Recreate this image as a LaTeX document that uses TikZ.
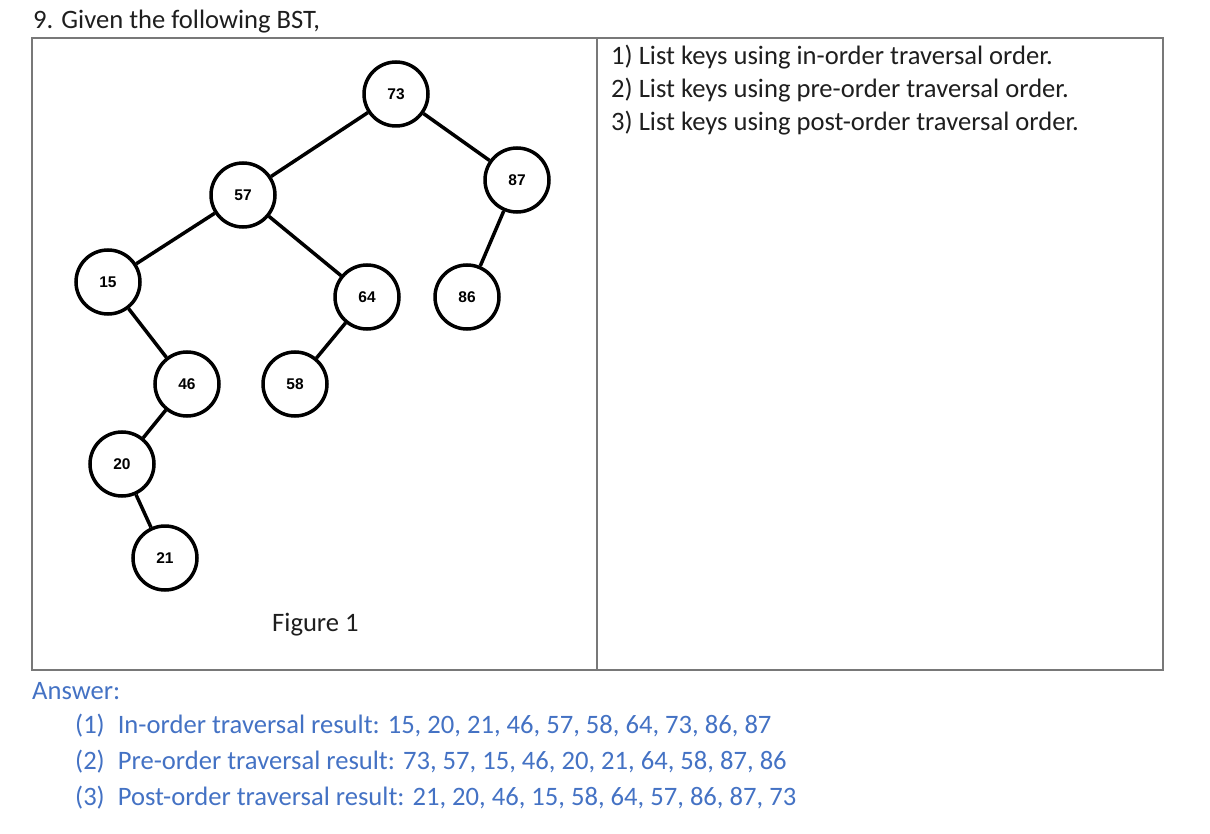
\documentclass[tikz,border=0pt]{standalone}
\usepackage{fontspec}
\setmainfont{Carlito}
\newfontfamily\keyfont{Liberation Sans}
\usetikzlibrary{calc}
\definecolor{answerblue}{RGB}{68,114,196}
\definecolor{framegray}{RGB}{120,120,120}
\definecolor{textgray}{RGB}{30,30,30}
\tikzstyle{key}=[circle,draw=black,line width=3.5pt,minimum size=64pt,inner sep=0pt,fill=white,font=\keyfont\bfseries\fontsize{15.5}{17}\selectfont, anchor = center]
\tikzstyle{edge}=[line width=3.5pt]
\tikzstyle{annot}=[anchor=base west,inner sep=0pt,text=textgray,font=\fontsize{26.6}{30}\selectfont]

\begin{document}
\begin{tikzpicture}[x=1pt,y=-1pt]
	\useasboundingbox (0,0) rectangle (1210,834);

	% question and frames
	\node[annot] (title) at (33,29) {9. Given the following BST,};
	\draw[framegray, line width=2pt] (32,38) rectangle (597,670);
	\draw[framegray, line width=2pt] (597,38) rectangle (1163,670);

	% the tree
	\node[key] (k73) at (396,94) {73};
	\node[key] (k57) at (243,195) {57};
	\node[key] (k87) at (517,180) {87};
	\node[key] (k15) at (108,282) {15};
	\node[key] (k64) at (367,297) {64};
	\node[key] (k86) at (467,297) {86};
	\node[key] (k46) at (187,384) {46};
	\node[key] (k58) at (295,384) {58};
	\node[key] (k20) at (122,464) {20};
	\node[key] (k21) at (165,558) {21};

	\draw[edge] (k73) -- (k57);
	\draw[edge] (k73) -- (k87);
	\draw[edge] (k57) -- (k15);
	\draw[edge] (k57) -- (k64);
	\draw[edge] (k87) -- (k86);
	\draw[edge] (k15) -- (k46);
	\draw[edge] (k64) -- (k58);
	\draw[edge] (k46) -- (k20);
	\draw[edge] (k20) -- (k21);

	\node[annot] (fig) at (272,631) {Figure 1};

	% questions
	\node[annot] (q1) at (611,65) {1) List keys using in-order traversal order.};
	\node[annot] (q2) at (611,98) {2) List keys using pre-order traversal order.};
	\node[annot] (q3) at (611,131) {3) List keys using post-order traversal order.};

	% answers
	\node[annot, text=answerblue] (ans) at (32,699) {Answer:};
	\node[annot, text=answerblue] (a1) at (75,733) {(1)\hspace{13pt}In-order traversal result: 15, 20, 21, 46, 57, 58, 64, 73, 86, 87};
	\node[annot, text=answerblue] (a2) at (75,769) {(2)\hspace{13pt}Pre-order traversal result: 73, 57, 15, 46, 20, 21, 64, 58, 87, 86};
	\node[annot, text=answerblue] (a3) at (75,805) {(3)\hspace{13pt}Post-order traversal result: 21, 20, 46, 15, 58, 64, 57, 86, 87, 73};

\end{tikzpicture}
\end{document}
